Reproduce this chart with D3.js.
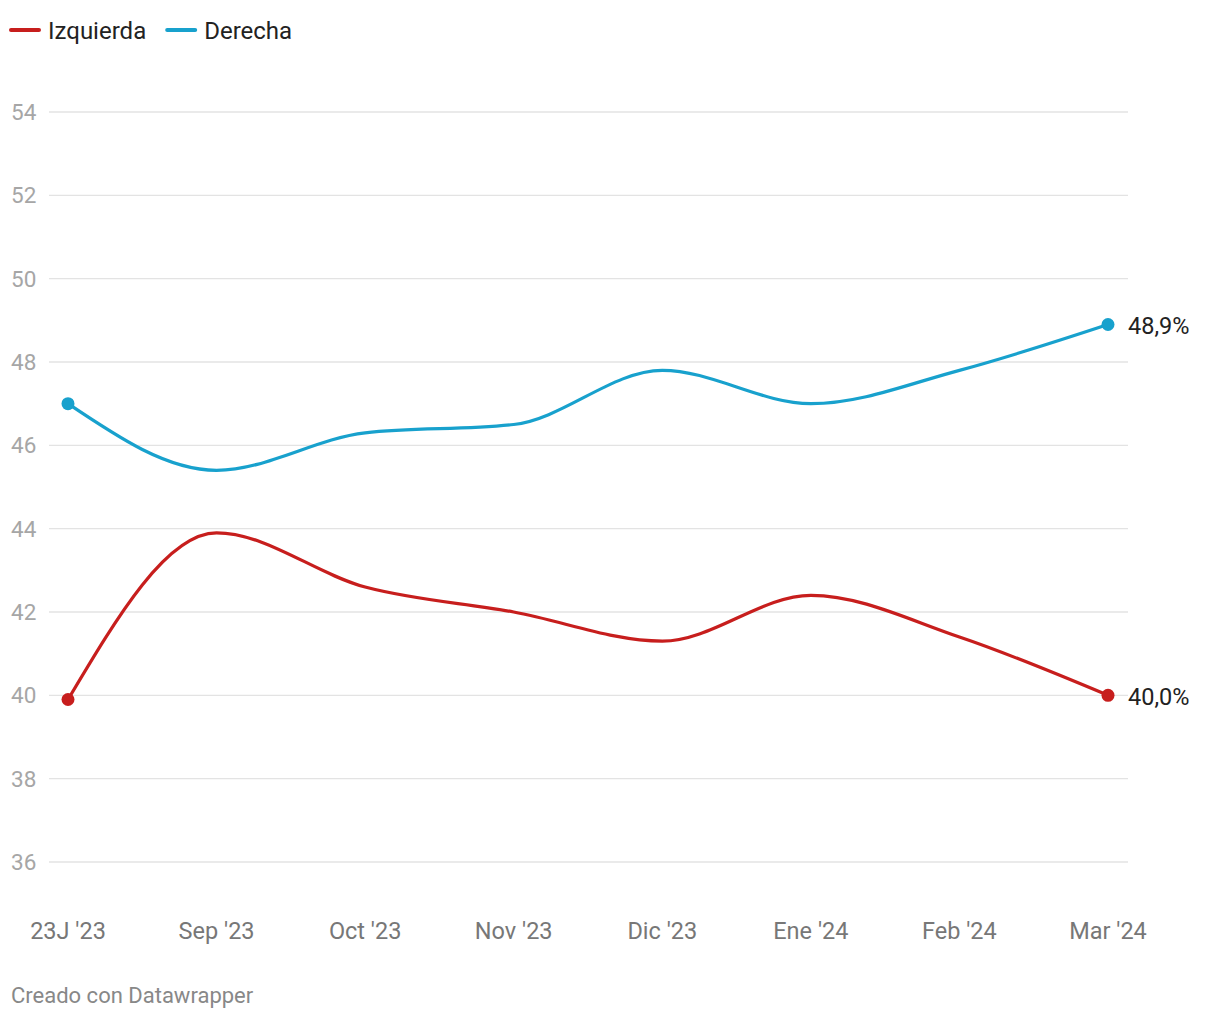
<!DOCTYPE html>
<html><head><meta charset="utf-8">
<script src="https://cdn.jsdelivr.net/npm/d3@7"></script>
<style>
body{margin:0;background:#fff;font-family:Roboto,"Noto Sans",sans-serif;}
svg text{font-family:Roboto,"Noto Sans",sans-serif;}
</style></head>
<body><svg id="c" width="1220" height="1020"></svg>
<script>
const categories = ["23J '23","Sep '23","Oct '23","Nov '23","Dic '23","Ene '24","Feb '24","Mar '24"];
const izquierda = [39.9, 43.9, 42.6, 42.0, 41.3, 42.4, 41.4, 40.0];
const derecha = [47.0, 45.4, 46.3, 46.5, 47.8, 47.0, 47.8, 48.9];
const yTicks = [36,38,40,42,44,46,48,50,52,54];
const seriesNames = ["Izquierda","Derecha"];
const seriesColors = ["#c71e1d","#18a1cd"];
const endLabels = ["40,0%","48,9%"];

const svg = d3.select("#c");
const x = d3.scalePoint().domain(categories).range([68,1108]);
const y = d3.scaleLinear().domain([36,54]).range([862,112]);

// grid
const yAxis = svg.append("g");
yTicks.forEach(t=>{
  yAxis.append("line").attr("x1",49).attr("x2",1128).attr("y1",y(t)).attr("y2",y(t))
    .attr("stroke","#e3e3e3").attr("stroke-width",1.3);
  yAxis.append("text").attr("x",11).attr("y",y(t)).attr("dy","0.36em")
    .attr("font-size",22.5).attr("fill","#a6a6a6").text(t);
});
// x labels
categories.forEach(c=>{
  svg.append("text").attr("x",x(c)).attr("y",939).attr("text-anchor","middle")
    .attr("font-size",23.5).attr("fill","#777").text(c);
});

const data = [izquierda, derecha];
const line = d3.line().x((d,i)=>x(categories[i])).y(d=>y(d)).curve(d3.curveMonotoneX);
data.forEach((vals,k)=>{
  svg.append("path").attr("d",line(vals)).attr("fill","none")
    .attr("stroke",seriesColors[k]).attr("stroke-width",3.2).attr("stroke-linecap","round");
  [0, vals.length-1].forEach(i=>{
    svg.append("circle").attr("cx",x(categories[i])).attr("cy",y(vals[i])).attr("r",6.5)
      .attr("fill",seriesColors[k]);
  });
  svg.append("text").attr("x",x(categories[vals.length-1])+20).attr("y",y(vals[vals.length-1]))
    .attr("dy","0.4em").attr("font-size",23.5).attr("fill","#222").text(endLabels[k]);
});

// legend
let lx = 11;
seriesNames.forEach((n,k)=>{
  svg.append("line").attr("x1",lx).attr("x2",lx+28).attr("y1",30).attr("y2",30)
    .attr("stroke",seriesColors[k]).attr("stroke-width",4).attr("stroke-linecap","round");
  const t = svg.append("text").attr("x",lx+37).attr("y",30).attr("dy","0.36em")
    .attr("font-size",24).attr("fill","#222").text(n);
  lx += 37 + t.node().getComputedTextLength() + 21;
});

svg.append("text").attr("x",11).attr("y",1003).attr("font-size",22).attr("fill","#888")
  .text("Creado con Datawrapper");
</script></body></html>
